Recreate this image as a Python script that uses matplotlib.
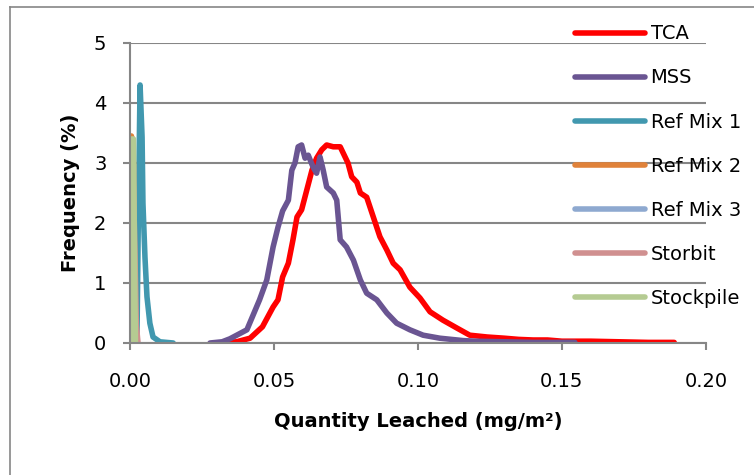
import matplotlib.pyplot as plt
from matplotlib.lines import Line2D

# Данные кривых
tca_x = [0.030, 0.037, 0.0417, 0.046, 0.0497, 0.0514, 0.053, 0.055, 0.0566, 0.058, 0.0596,
         0.0614, 0.0632, 0.0648, 0.0666, 0.0683, 0.0706, 0.073, 0.074, 0.0757, 0.077, 0.0788,
         0.080, 0.0822, 0.0845, 0.0868, 0.0892, 0.0914, 0.0938, 0.0972, 0.1007, 0.1042,
         0.1087, 0.1135, 0.118, 0.124, 0.130, 0.135, 0.140, 0.145, 0.150, 0.160, 0.170,
         0.180, 0.189]
tca_y = [0.0, 0.02, 0.08, 0.27, 0.60, 0.72, 1.10, 1.33, 1.72, 2.10, 2.22,
         2.55, 2.88, 3.08, 3.22, 3.30, 3.27, 3.27, 3.17, 3.00, 2.77, 2.68,
         2.50, 2.43, 2.10, 1.77, 1.55, 1.33, 1.22, 0.93, 0.75, 0.52,
         0.38, 0.25, 0.13, 0.10, 0.08, 0.06, 0.05, 0.05, 0.03, 0.03, 0.02,
         0.01, 0.01]

mss_x = [0.0278, 0.032, 0.0347, 0.0406, 0.045, 0.0475, 0.0497, 0.0514, 0.053, 0.055, 0.0562,
         0.0573, 0.0584, 0.0596, 0.0608, 0.0619, 0.0636, 0.0648, 0.066, 0.0671, 0.0683,
         0.0706, 0.0718, 0.073, 0.0752, 0.0776, 0.080, 0.0822, 0.0857, 0.0892, 0.0926,
         0.0972, 0.1018, 0.1076, 0.1157, 0.120, 0.130, 0.140, 0.1545]
mss_y = [0.0, 0.02, 0.07, 0.22, 0.72, 1.05, 1.60, 1.93, 2.20, 2.38, 2.88,
         3.00, 3.27, 3.30, 3.08, 3.13, 2.93, 2.83, 3.10, 2.88, 2.60,
         2.50, 2.38, 1.72, 1.60, 1.38, 1.05, 0.83, 0.72, 0.50, 0.33,
         0.22, 0.13, 0.08, 0.04, 0.03, 0.02, 0.01, 0.01]

mix1_x = [0.0024, 0.0030, 0.0035, 0.0042, 0.0045, 0.0052, 0.0059, 0.0069, 0.0080, 0.0104, 0.015]
mix1_y = [0.0, 2.5, 4.30, 3.43, 2.33, 1.43, 0.77, 0.33, 0.10, 0.02, 0.0]

mix2_x = [0.0003, 0.0005, 0.0012, 0.0018, 0.0025]
mix2_y = [0.0, 3.45, 3.0, 0.2, 0.0]

mix3_x = [0.0004, 0.0006, 0.0012, 0.0018, 0.0025]
mix3_y = [0.0, 3.35, 2.9, 0.2, 0.0]

storbit_x = [0.0005, 0.0008, 0.0015, 0.0022, 0.0028]
storbit_y = [0.0, 3.3, 2.0, 0.3, 0.0]

stockpile_x = [0.0004, 0.0005, 0.0012, 0.0017, 0.0019]
stockpile_y = [0.0, 3.40, 3.40, 0.8, 0.0]

series = [
    ('TCA', tca_x, tca_y, '#FF0000'),
    ('MSS', mss_x, mss_y, '#6A5592'),
    ('Ref Mix 1', mix1_x, mix1_y, '#4198AF'),
    ('Ref Mix 2', mix2_x, mix2_y, '#E0823A'),
    ('Ref Mix 3', mix3_x, mix3_y, '#8EA9D0'),
    ('Storbit', storbit_x, storbit_y, '#D09090'),
    ('Stockpile', stockpile_x, stockpile_y, '#B5CB92'),
]

plt.rcParams['font.family'] = ['DejaVu Sans']
grey = '#868686'

fig = plt.figure(figsize=(7.54, 4.75), dpi=100)
ax = fig.add_axes([0.1724, 0.2779, 0.7638, 0.6316])

for name, xs, ys, col in series:
    ax.plot(xs, ys, color=col, lw=4, label=name,
            solid_capstyle='round', solid_joinstyle='round')

ax.set_xlim(0, 0.2)
ax.set_ylim(0, 5)
ax.set_xticks([0.0, 0.05, 0.10, 0.15, 0.20])
ax.set_xticklabels(['0.00', '0.05', '0.10', '0.15', '0.20'])
ax.set_yticks(range(6))
ax.grid(True, axis='y', color=grey, lw=1.5)
ax.set_axisbelow(True)
for s in ['top', 'right']:
    ax.spines[s].set_visible(False)
for s in ['left', 'bottom']:
    ax.spines[s].set_color(grey)
    ax.spines[s].set_linewidth(1.5)
ax.tick_params(colors=grey, labelcolor='black', labelsize=14, width=1.5, length=5)
ax.tick_params(axis='x', pad=16)
ax.tick_params(axis='y', pad=12)

ax.set_xlabel('Quantity Leached (mg/m²)', fontsize=14, fontweight='bold', labelpad=15)
ax.set_ylabel('Frequency (%)', fontsize=14, fontweight='bold', labelpad=10)

fig.legend(loc='upper left', bbox_to_anchor=(0.752, 0.965), frameon=False,
           fontsize=14, handlelength=3.6, labelspacing=1.29, handletextpad=0.3,
           borderaxespad=0)

# Рамка вокруг области диаграммы (обрезана справа и снизу)
fig.add_artist(Line2D([10 / 754, 10 / 754], [0, 1 - 7 / 475], color=grey, lw=1.2,
                      transform=fig.transFigure))
fig.add_artist(Line2D([10 / 754, 1], [1 - 7 / 475, 1 - 7 / 475], color=grey, lw=1.2,
                      transform=fig.transFigure))

fig.savefig('out.png', dpi=100)
